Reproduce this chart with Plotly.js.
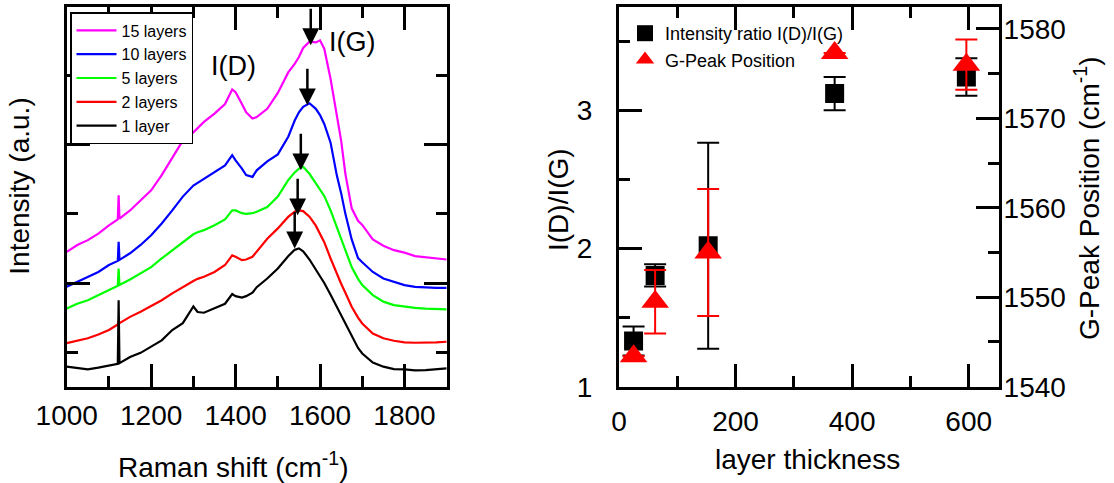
<!DOCTYPE html>
<html><head><meta charset="utf-8">
<script src="https://cdn.plot.ly/plotly-3.0.1.min.js"></script>
<style>html,body{margin:0;padding:0;background:#fff}#chart{width:1114px;height:483px}</style>
</head><body><div id="chart"></div>
<script>
// ---- Left panel: Raman spectra (offset, arbitrary units) ----
const ramanShift = [1000,1025,1050,1075,1100,1121,1123,1125,1150,1175,1200,1225,1250,1275,1300,1310,1325,1350,1375,1392,1400,1415,1425,1440,1450,1475,1500,1525,1540,1550,1560,1575,1590,1600,1610,1625,1640,1650,1660,1675,1690,1700,1725,1750,1775,1800,1825,1850,1875,1900];
const layers15 = [1.95,2.05,2.12,2.215,2.335,2.42,2.77,2.43,2.55,2.70,2.84,3.06,3.30,3.56,3.68,3.74,3.83,3.95,4.09,4.30,4.26,4.09,3.97,3.88,3.90,4.02,4.25,4.55,4.67,4.77,4.90,4.99,4.98,5.01,4.89,4.45,3.90,3.56,3.08,2.58,2.40,2.34,2.13,2.04,1.975,1.94,1.89,1.87,1.85,1.84];
const layers10 = [1.445,1.52,1.59,1.66,1.76,1.82,2.095,1.835,1.93,2.05,2.19,2.36,2.55,2.75,2.91,2.95,3.01,3.11,3.20,3.35,3.275,3.155,3.06,3.035,3.13,3.26,3.36,3.62,3.85,3.97,4.05,4.10,4.02,3.93,3.80,3.53,3.05,2.80,2.50,2.13,1.86,1.80,1.66,1.565,1.52,1.47,1.445,1.435,1.43,1.43];
const layers5 = [1.13,1.20,1.25,1.32,1.40,1.46,1.71,1.47,1.55,1.64,1.73,1.855,1.975,2.095,2.205,2.235,2.265,2.335,2.42,2.55,2.55,2.51,2.50,2.51,2.53,2.60,2.75,2.99,3.10,3.155,3.18,3.08,2.95,2.86,2.76,2.55,2.30,2.14,1.98,1.73,1.56,1.47,1.325,1.23,1.18,1.156,1.14,1.13,1.12,1.12];
const layers2 = [0.63,0.665,0.70,0.755,0.82,0.90,0.95,0.92,1.01,1.085,1.165,1.25,1.35,1.445,1.53,1.56,1.59,1.66,1.76,1.90,1.88,1.83,1.84,1.88,1.95,2.14,2.29,2.46,2.53,2.55,2.54,2.46,2.33,2.22,2.09,1.855,1.63,1.49,1.36,1.156,1.0,0.915,0.77,0.70,0.665,0.64,0.636,0.636,0.64,0.65];
const layers1 = [0.29,0.265,0.25,0.275,0.30,0.33,1.25,0.34,0.43,0.49,0.58,0.67,0.82,0.92,1.16,1.08,1.07,1.13,1.20,1.34,1.31,1.29,1.31,1.36,1.44,1.565,1.71,1.89,1.98,2.0,1.96,1.84,1.70,1.61,1.50,1.33,1.15,1.04,0.91,0.72,0.56,0.48,0.35,0.29,0.255,0.25,0.235,0.24,0.25,0.265];
const spectraNames = ['15 layers','10 layers','5 layers','2 layers','1 layer'];
const spectraColors = ['#FF00FF','#0000FF','#00FF00','#FF0000','#000000'];
const spectraValues = [layers15, layers10, layers5, layers2, layers1];
// G-peak markers (arrow tips)
const gArrowX = [1578, 1570, 1554.5, 1547, 1540];
const gArrowY = [4.94, 4.07, 3.13, 2.48, 2.0];

// ---- Right panel ----
const thickness = [25, 62, 153, 370, 596];
const ratioDG = [1.33, 1.805, 2.02, 3.12, 3.24];
const ratioErr = [0.105, 0.08, 0.745, 0.12, 0.135];
const gPeak = [1543.4, 1549.5, 1555.0, 1577.3, 1576.0];
const gPeakErr = [0, 3.55, 7.1, 0, 2.8];

const FONT = 'Liberation Sans, Arial, sans-serif';
const W = 1114, H = 483;
const px = v => v / W, py = v => (H - v) / H;

const traces = [];
spectraValues.forEach((vals, i) => {
  traces.push({
    type: 'scatter', mode: 'lines', x: ramanShift, y: vals,
    name: spectraNames[i], xaxis: 'x', yaxis: 'y',
    line: {color: spectraColors[i], width: 2.2}, legend: 'legend'
  });
});
traces.push({
  type: 'scatter', mode: 'markers', x: thickness, y: ratioDG,
  name: 'Intensity ratio I(D)/I(G)', xaxis: 'x2', yaxis: 'y2', legend: 'legend2',
  marker: {symbol: 'square', size: 19, color: '#000'},
  error_y: {type: 'data', array: ratioErr, visible: true, color: '#000', thickness: 2, width: 11}
});
traces.push({
  type: 'scatter', mode: 'markers', x: thickness, y: gPeak,
  name: 'G-Peak Position', xaxis: 'x2', yaxis: 'y3', legend: 'legend2',
  marker: {symbol: 'triangle-up', size: 24, color: '#FF0000'},
  error_y: {type: 'data', array: gPeakErr, visible: true, color: '#FF0000', thickness: 2, width: 11}
});

const axBase = {
  showline: true, linewidth: 3, linecolor: '#000', ticks: 'inside', ticklen: 23, tickwidth: 3,
  tickcolor: '#000', showgrid: false, zeroline: false, fixedrange: true,
  tickfont: {family: FONT, size: 28, color: '#000'}
};
const minorBase = {ticks: 'inside', ticklen: 11, tickwidth: 3, tickcolor: '#000', showgrid: false};

const arrowAnns = gArrowX.map((x, i) => ({
  xref: 'x', yref: 'y', x: x, y: gArrowY[i], text: '', showarrow: true,
  ax: 0, ay: -38, arrowhead: 2, arrowsize: 1.35, arrowwidth: 2.5, arrowcolor: '#000', standoff: 0
}));

const titleFont = {family: FONT, size: 28, color: '#000'};
const ttl = (x, y, text, angle) => ({xref: 'paper', yref: 'paper', x: px(x), y: py(y), text: text,
  textangle: angle || 0, showarrow: false, xanchor: 'center', yanchor: 'middle', font: titleFont});
const layout = {
  width: W, height: H, margin: {l: 0, r: 0, t: 0, b: 0},
  paper_bgcolor: '#fff', plot_bgcolor: '#fff',
  font: {family: FONT, color: '#000'},
  xaxis: Object.assign({}, axBase, {domain: [px(66.7), px(446.7)], range: [1000, 1900], tick0: 1000, dtick: 200,
    mirror: 'ticks', ticklabelstandoff: 2, minor: Object.assign({}, minorBase, {dtick: 100})}),
  yaxis: Object.assign({}, axBase, {domain: [py(386.7), py(6.5)], range: [0, 5.5], tick0: 1.5, dtick: 2,
    mirror: 'ticks', showticklabels: false, minor: Object.assign({}, minorBase, {tick0: 0.5, dtick: 1})}),
  xaxis2: Object.assign({}, axBase, {domain: [px(619), px(999)], anchor: 'y2', range: [0, 652], tick0: 0, dtick: 200,
    mirror: 'ticks', ticklabelstandoff: 8, minor: Object.assign({}, minorBase, {dtick: 100})}),
  yaxis2: Object.assign({}, axBase, {domain: [py(386.7), py(6.5)], anchor: 'x2', range: [1, 3.75], dtick: 1,
    ticklabelstandoff: 18, minor: Object.assign({}, minorBase, {dtick: 0.5})}),
  yaxis3: Object.assign({}, axBase, {overlaying: 'y2', anchor: 'x2', side: 'right', range: [1540, 1582.5], dtick: 10,
    ticklabelstandoff: -4, minor: Object.assign({}, minorBase, {dtick: 5})}),
  showlegend: true,
  legend: {x: px(70), y: py(12), xanchor: 'left', yanchor: 'top', bgcolor: '#fff', bordercolor: '#000',
    borderwidth: 1.5, itemwidth: 40, font: {family: FONT, size: 16, color: '#000'}, traceorder: 'normal'},
  legend2: {x: px(625), y: py(15), xanchor: 'left', yanchor: 'top', bgcolor: 'rgba(0,0,0,0)', borderwidth: 0,
    font: {family: FONT, size: 18, color: '#000'}, traceorder: 'normal'},
  annotations: [
    {xref: 'x', yref: 'y', x: 1395, y: 4.64, text: 'I(D)', showarrow: false, xanchor: 'center', yanchor: 'middle', font: {family: FONT, size: 27, color: '#000'}},
    {xref: 'x', yref: 'y', x: 1677, y: 4.99, text: 'I(G)', showarrow: false, xanchor: 'center', yanchor: 'middle', font: {family: FONT, size: 27, color: '#000'}},
    ttl(20, 186.7, 'Intensity (a.u.)', -90),
    ttl(233.5, 465, 'Raman shift (cm<sup>-1</sup>)'),
    ttl(559, 200, 'I(D)/I(G)', -90),
    ttl(807.5, 459, 'layer thickness'),
    ttl(1086.5, 198.5, 'G-Peak Position (cm<sup>-1</sup>)', -90)
  ].concat(arrowAnns)
};

Plotly.newPlot('chart', traces, layout, {displayModeBar: false, staticPlot: true});
</script></body></html>
